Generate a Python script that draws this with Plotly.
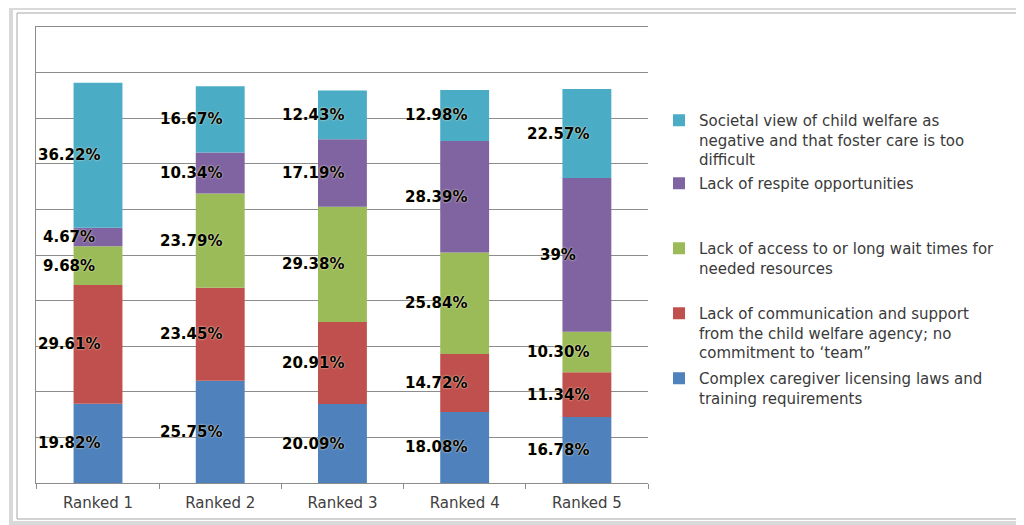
import plotly.graph_objects as go

categories = ["Ranked 1", "Ranked 2", "Ranked 3", "Ranked 4", "Ranked 5"]

# bar totals (height units, axis 0-100 with gridlines every 10)
totals = [87.8, 87.0, 86.1, 86.2, 86.4]

# percentage labels per series (bottom to top)
complex_laws = ["19.82%", "25.75%", "20.09%", "18.08%", "16.78%"]
communication = ["29.61%", "23.45%", "20.91%", "14.72%", "11.34%"]
access = ["9.68%", "23.79%", "29.38%", "25.84%", "10.30%"]
respite = ["4.67%", "10.34%", "17.19%", "28.39%", "39%"]
societal = ["36.22%", "16.67%", "12.43%", "12.98%", "22.57%"]

series_names = [
    "Complex caregiver licensing laws and<br>training requirements",
    "Lack of communication and support<br>from the child welfare agency; no<br>commitment to \u2018team\u201d",
    "Lack of access to or long wait times for<br>needed resources",
    "Lack of respite opportunities",
    "Societal view of child welfare as<br>negative and that foster care is too<br>difficult",
]
series_labels = [complex_laws, communication, access, respite, societal]
colors = ["#4F81BD", "#C0504D", "#9BBB59", "#8064A2", "#4BACC6"]

# page offset (browser body margin) and plot-area geometry in screen pixels
OFF = 8
FW, FH = 1024 - OFF, 525 - OFF
L, R, T, B = 36, 648, 27, 483
W_, H_ = R - L, B - T

def px_x(sx):
    return (sx - L) / W_

def px_y(sy):
    return (B - sy) / H_

legend_first_line = [378, 313, 248, 183, 120]
legend_ids = ["legend", "legend2", "legend3", "legend4", "legend5"]

fig = go.Figure()
base = [0.0] * len(categories)
annotations = []
for name, labels, color, lid in zip(series_names, series_labels, colors, legend_ids):
    vals = [t * float(s.rstrip("%")) / 100 for t, s in zip(totals, labels)]
    fig.add_trace(go.Bar(
        x=categories, y=vals, base=base, name=name, marker_color=color,
        marker_line_width=0, legend=lid, hoverinfo="skip",
    ))
    for c, b, v, s in zip(categories, base, vals, labels):
        annotations.append(dict(
            x=c, y=b + v / 2, text=s, showarrow=False, xshift=-29,
            font=dict(family="DejaVu Sans", size=15, color="#000000", weight="bold",
                      shadow="0px 0px 2px #fff6c8"),
        ))
    base = [b + v for b, v in zip(base, vals)]

legend_font = dict(family="DejaVu Sans", size=15, color="#3a3a3a")
legend_layouts = {}
for lid, fl in zip(legend_ids, legend_first_line):
    legend_layouts[lid] = dict(
        x=px_x(659), xanchor="left", y=px_y(fl - 16), yanchor="top",
        font=legend_font, bgcolor="rgba(0,0,0,0)", valign="top",
        itemclick=False, itemdoubleclick=False,
    )

shapes = [
    # outer chart frame
    dict(type="rect", xref="paper", yref="paper",
         x0=px_x(11), x1=px_x(1022), y0=px_y(523), y1=px_y(8),
         line=dict(color="#d9d9d9", width=4), layer="below"),
    dict(type="rect", xref="paper", yref="paper",
         x0=px_x(17), x1=px_x(1019), y0=px_y(519), y1=px_y(13),
         line=dict(color="#a6a6a6", width=1), layer="below"),
]

fig.update_layout(
    width=FW, height=FH,
    margin=dict(l=L - OFF, r=FW - (R - OFF), t=T - OFF, b=FH - (B - OFF)),
    paper_bgcolor="white", plot_bgcolor="white",
    barmode="overlay", bargap=0.6,
    showlegend=True,
    annotations=annotations,
    shapes=shapes,
    xaxis=dict(
        showgrid=False, showline=True, mirror=True, linecolor="#8c8c8c", linewidth=1,
        ticks="outside", tickson="boundaries", ticklen=5, tickcolor="#8c8c8c",
        ticklabelstandoff=6,
        tickfont=dict(family="DejaVu Sans", size=15, color="#404040"),
        fixedrange=True,
    ),
    yaxis=dict(
        range=[0, 100], dtick=10, showticklabels=False, showgrid=True,
        gridcolor="#8c8c8c", gridwidth=1, showline=True, linecolor="#8c8c8c",
        zeroline=False, fixedrange=True,
    ),
    **legend_layouts,
)

fig.write_html("out.html")
